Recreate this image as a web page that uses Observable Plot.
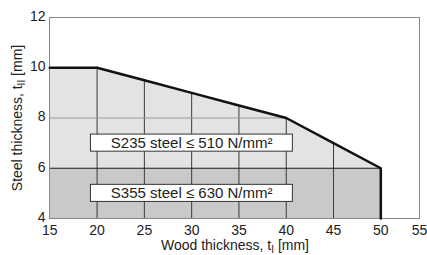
<!DOCTYPE html>
<html>
<head>
<meta charset="utf-8">
<script src="https://cdn.jsdelivr.net/npm/d3@7"></script>
<script src="https://cdn.jsdelivr.net/npm/@observablehq/plot@0.6"></script>
<style>
  html, body { margin: 0; padding: 0; background: #fff; }
  svg { display: block; }
</style>
</head>
<body>
<div id="chart"></div>
<script>
// Data
const woodThickness = [15, 20, 25, 30, 35, 40, 45, 50];
const steelMax = [10, 10, 9.5, 9, 8.5, 8, 7, 6];
const s355Limit = 6;
const steelMin = 4;
const xTicks = [15, 20, 25, 30, 35, 40, 45, 50, 55];
const yTicks = [4, 6, 8, 10, 12];
const gridX = [20, 25, 30, 35, 40, 45];
const labelTexts = ["S235 steel \u2264 510 N/mm\u00B2", "S355 steel \u2264 630 N/mm\u00B2"];
const labelY = [7, 5];

const rows = woodThickness.map((w, i) => ({w, s: steelMax[i]}));
const boundary = [...rows, {w: woodThickness[woodThickness.length - 1], s: steelMin}];
const grid = gridX.map(g => ({w: g, s: steelMax[woodThickness.indexOf(g)]}));
const labels = labelTexts.map((t, i) => ({t, y: labelY[i]}));

const font = "'Liberation Sans', Arial, Helvetica, sans-serif";

// the reference axis has a shorter last interval (50 -> 55)
const lastStep = 38.7 / 47.3;
const xTransform = v => (v <= 50 ? v : 50 + (v - 50) * lastStep);

const chart = Plot.plot({
  width: 427,
  height: 255,
  marginLeft: 49,
  marginRight: 8,
  marginTop: 17,
  marginBottom: 37,
  style: {fontFamily: font, fontSize: "14px", color: "#222", background: "#fff"},
  x: {type: "linear", transform: xTransform, domain: [15, xTransform(55)], range: [49.3, 419]},
  y: {domain: [4, 12], ticks: yTicks},
  marks: [
    Plot.areaY(rows, {x: "w", y1: steelMin, y2: "s", fill: "#e3e3e3", curve: "linear"}),
    Plot.areaY(rows, {x: "w", y1: steelMin, y2: s355Limit, fill: "#c9c9c9"}),
    Plot.ruleX(grid, {x: "w", y1: steelMin, y2: "s", stroke: "#3a3a3a", strokeWidth: 1}),
    Plot.ruleY([8], {x1: 15, x2: 40, stroke: "#999", strokeWidth: 1}),
    Plot.ruleY([s355Limit], {x1: 15, x2: 50, stroke: "#222", strokeWidth: 1}),
    Plot.frame({stroke: "#888", strokeWidth: 1}),
    Plot.line(boundary, {x: "w", y: "s", stroke: "#111", strokeWidth: 2.5, strokeLinejoin: "miter"}),
    Plot.rect(labels, {x1: 19.35, x2: 40.7, y1: d => d.y - 0.34, y2: d => d.y + 0.34, fill: "#fff", stroke: "#333", strokeWidth: 1}),
    Plot.text(labels, {x: 30.0, y: "y", text: "t", fontSize: 15, fill: "#222"}),
    Plot.axisX(xTicks, {tickSize: 0, tickPadding: 7, label: null, fontSize: 14, tickFormat: d => String(d)}),
    Plot.axisY({ticks: yTicks, tickSize: 0, tickPadding: 4, label: null, fontSize: 14, dy: -1})
  ]
});

document.getElementById("chart").appendChild(chart);

// Axis titles with subscripts
const svg = d3.select(chart);
const xt = svg.append("text")
  .attr("x", 235).attr("y", 250)
  .attr("text-anchor", "middle")
  .attr("font-family", font).attr("font-size", 14).attr("fill", "#222");
xt.append("tspan").text("Wood thickness, t");
xt.append("tspan").attr("font-size", 10).attr("dy", 3).text("I");
xt.append("tspan").attr("dy", -3).text(" [mm]");

const yt = svg.append("text")
  .attr("transform", "translate(22,118) rotate(-90)")
  .attr("text-anchor", "middle")
  .attr("font-family", font).attr("font-size", 14).attr("fill", "#222");
yt.append("tspan").text("Steel thickness, t");
yt.append("tspan").attr("font-size", 10).attr("dy", 3).text("II");
yt.append("tspan").attr("dy", -3).text(" [mm]");
</script>
</body>
</html>
